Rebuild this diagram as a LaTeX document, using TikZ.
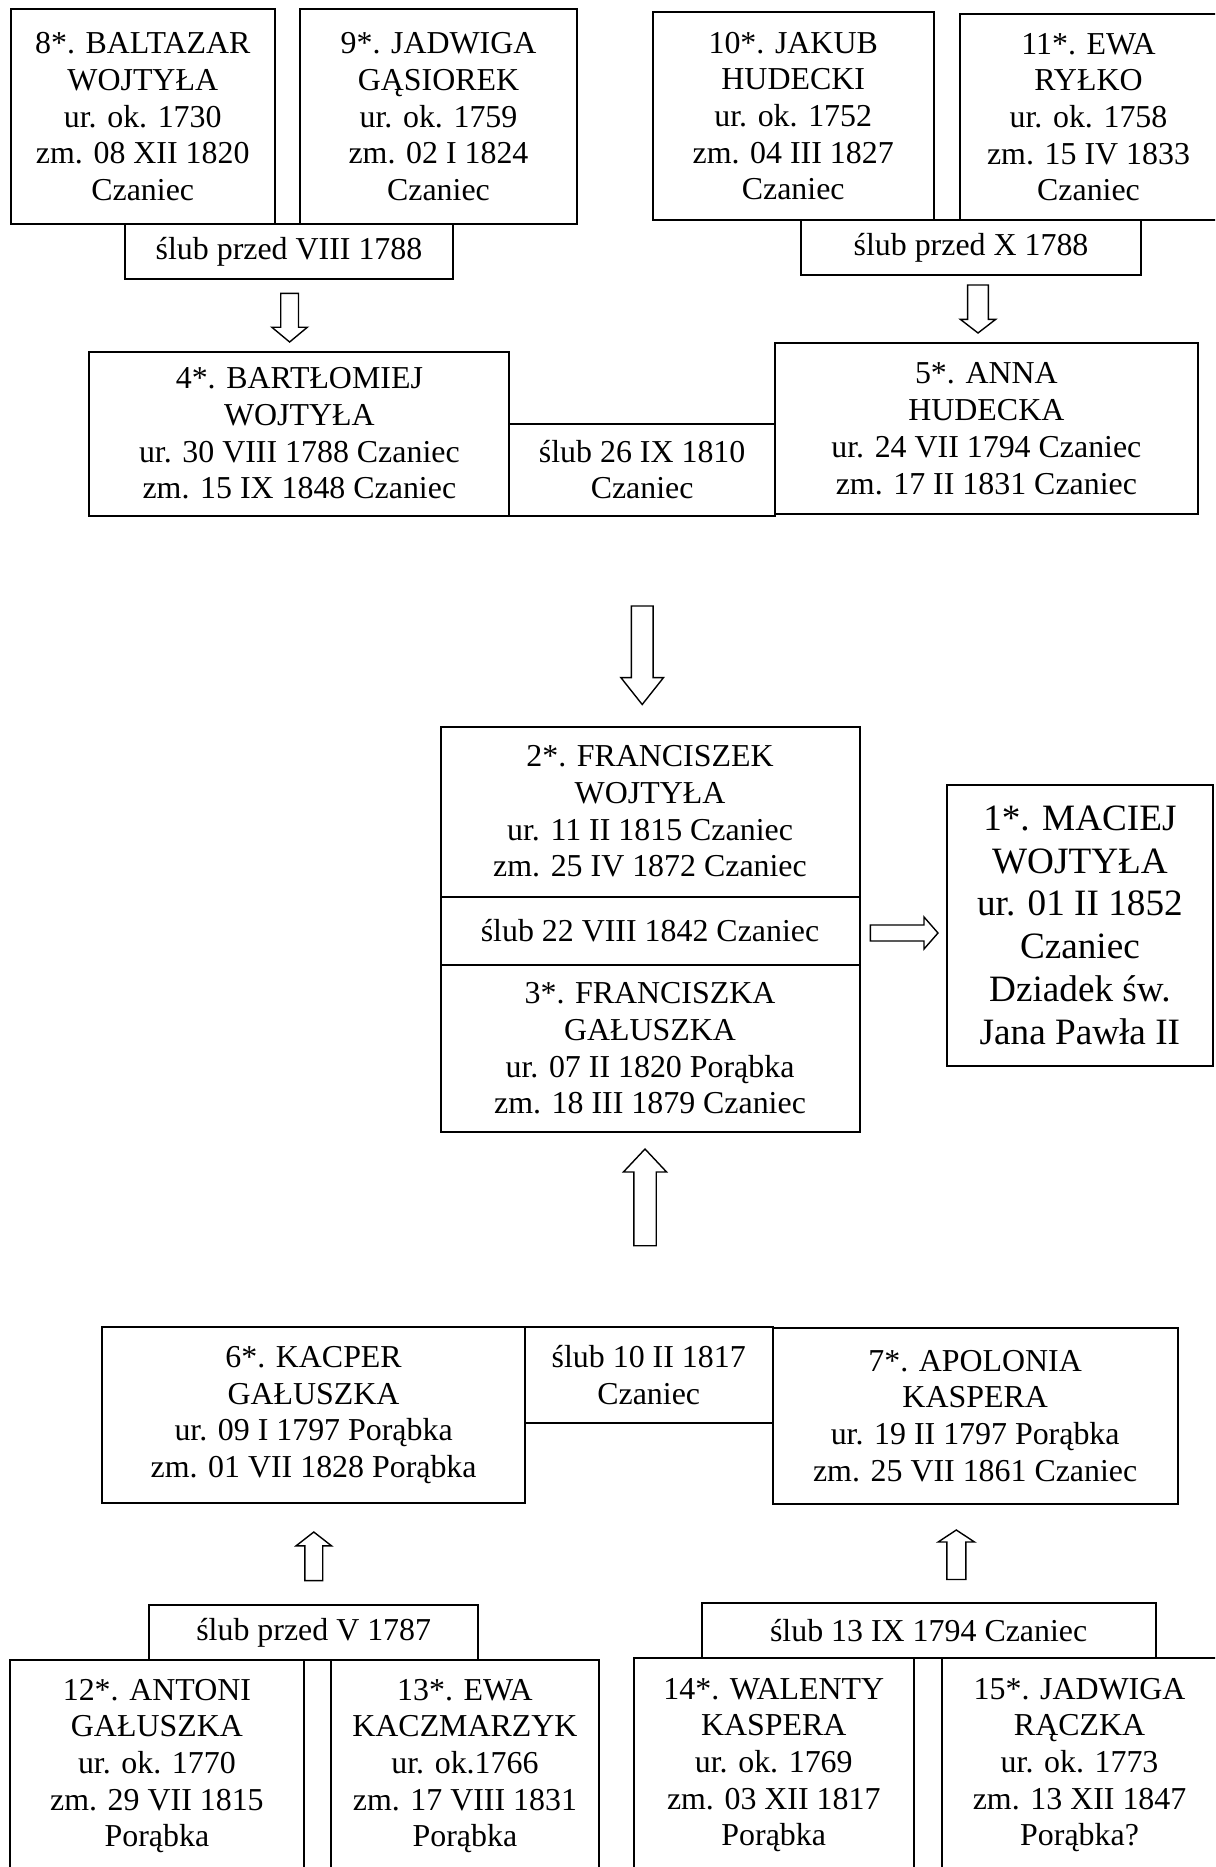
\documentclass[tikz,border=0pt]{standalone}
\usepackage{fontspec}
\setmainfont{Liberation Serif}
% vertical block arrow: centre x, shaft half width, head half width, shaft end y, head base y, tip y
\newcommand\VBlock[6]{\draw[blockarrow] ({#1-#2},#4) -- ({#1+#2},#4) -- ({#1+#2},#5) -- ({#1+#3},#5) -- (#1,#6) -- ({#1-#3},#5) -- ({#1-#2},#5) -- cycle;}
% horizontal block arrow: centre y, shaft half height, head half height, shaft start x, head base x, tip x
\newcommand\HBlock[6]{\draw[blockarrow] (#4,{#1-#2}) -- (#5,{#1-#2}) -- (#5,{#1-#3}) -- (#6,#1) -- (#5,{#1+#3}) -- (#5,{#1+#2}) -- (#4,{#1+#2}) -- cycle;}
\begin{document}
\begin{tikzpicture}[x=1pt,y=-1pt,
  cell/.style={draw, line width=2pt, align=center, inner sep=0pt,
    font={\fontsize{31.9}{36.7}\selectfont}},
  bigcell/.style={cell, font={\fontsize{37.2}{42.8}\selectfont}},
  blockarrow/.style={draw, line width=1.4pt, line join=miter, fill=white}]
\useasboundingbox (0,0) rectangle (1215,1867);
\clip (0,0) rectangle (1215,1867);
\fill[white] (0,0) rectangle (1215,1867);

% ---- top generation ----
\node[cell, minimum width=264.1, minimum height=214.3] (p8) at (142.75,116.65)
  {8*. BALTAZAR\\WOJTYŁA\\ur. ok. 1730\\zm. 08 XII 1820\\Czaniec};
\node[cell, minimum width=277.6, minimum height=214.3] (p9) at (438.5,116.65)
  {9*. JADWIGA\\GĄSIOREK\\ur. ok. 1759\\zm. 02 I 1824\\Czaniec};
\node[cell, minimum width=328, minimum height=55.4] (m89) at (289,251.5)
  {ślub przed VIII 1788};

\node[cell, minimum width=281.2, minimum height=207.8] (p10) at (793.2,116.1)
  {10*. JAKUB\\HUDECKI\\ur. ok. 1752\\zm. 04 III 1827\\Czaniec};
\node[cell, minimum width=257.9, minimum height=205.8] (p11) at (1088.5,117.1)
  {11*. EWA\\RYŁKO\\ur. ok. 1758\\zm. 15 IV 1833\\Czaniec};
\node[cell, minimum width=340.4, minimum height=55.5] (m1011) at (971,247.75)
  {ślub przed X 1788};

% ---- second generation (top) ----
\node[cell, minimum width=419.9, minimum height=164] (p4) at (299.35,433.5)
  {4*. BARTŁOMIEJ\\WOJTYŁA\\ur. 30 VIII 1788 Czaniec\\zm. 15 IX 1848 Czaniec};
\node[cell, minimum width=265.7, minimum height=92] (m45) at (642.15,469.5)
  {ślub 26 IX 1810\\Czaniec};
\node[cell, minimum width=422.7, minimum height=171.4] (p5) at (986.35,428.7)
  {5*. ANNA\\HUDECKA\\ur. 24 VII 1794 Czaniec\\zm. 17 II 1831 Czaniec};

% ---- parents ----
\node[cell, minimum width=419, minimum height=170] (p2) at (650,811.6)
  {2*. FRANCISZEK\\WOJTYŁA\\ur. 11 II 1815 Czaniec\\zm. 25 IV 1872 Czaniec};
\node[cell, minimum width=419, minimum height=68.5] (m23) at (650,930.85)
  {ślub 22 VIII 1842 Czaniec};
\node[cell, minimum width=419, minimum height=166.6] (p3) at (650,1048.4)
  {3*. FRANCISZKA\\GAŁUSZKA\\ur. 07 II 1820 Porąbka\\zm. 18 III 1879 Czaniec};

\node[bigcell, minimum width=266.2, minimum height=281] (p1) at (1079.9,925.2)
  {1*. MACIEJ\\WOJTYŁA\\ur. 01 II 1852\\Czaniec\\Dziadek św.\\Jana Pawła II};

% ---- second generation (bottom) ----
\node[cell, minimum width=422.4, minimum height=175.6] (p6) at (313.6,1415)
  {6*. KACPER\\GAŁUSZKA\\ur. 09 I 1797 Porąbka\\zm. 01 VII 1828 Porąbka};
\node[cell, minimum width=247.8, minimum height=95.8] (m67) at (648.7,1375.1)
  {ślub 10 II 1817\\Czaniec};
\node[cell, minimum width=405.1, minimum height=175.9] (p7) at (975.15,1415.95)
  {7*. APOLONIA\\KASPERA\\ur. 19 II 1797 Porąbka\\zm. 25 VII 1861 Czaniec};

% ---- bottom generation ----
\node[cell, minimum width=328.6, minimum height=55] (m1213) at (313.7,1632.5)
  {ślub przed V 1787};
\node[cell, minimum width=454.1, minimum height=55.3] (m1415) at (928.65,1630.35)
  {ślub 13 IX 1794 Czaniec};
\node[cell, minimum width=294.2, minimum height=212] (p12) at (156.9,1766)
  {12*. ANTONI\\GAŁUSZKA\\ur. ok. 1770\\zm. 29 VII 1815\\Porąbka};
\node[cell, minimum width=268.7, minimum height=212] (p13) at (464.95,1766)
  {13*. EWA\\KACZMARZYK\\ur. ok.1766\\zm. 17 VIII 1831\\Porąbka};
\node[cell, minimum width=280.1, minimum height=214] (p14) at (773.75,1765)
  {14*. WALENTY\\KASPERA\\ur. ok. 1769\\zm. 03 XII 1817\\Porąbka};
\node[cell, minimum width=275.9, minimum height=214] (p15) at (1079.55,1765)
  {15*. JADWIGA\\RĄCZKA\\ur. ok. 1773\\zm. 13 XII 1847\\Porąbka?};

% ---- block arrows ----
\VBlock{289.6}{8.9}{17.8}{293.4}{327.2}{342}
\VBlock{978}{10.4}{17.6}{285}{319.4}{333}
\VBlock{642.2}{10.9}{21.3}{606}{677.6}{704.5}
\HBlock{933}{8}{16}{870.4}{924}{938}
\VBlock{645}{11.2}{21.6}{1245.7}{1172}{1149}
\VBlock{313.8}{8.9}{17.7}{1580.6}{1545.8}{1532}
\VBlock{956.3}{9.5}{18.2}{1579.5}{1542}{1530}
\end{tikzpicture}
\end{document}
